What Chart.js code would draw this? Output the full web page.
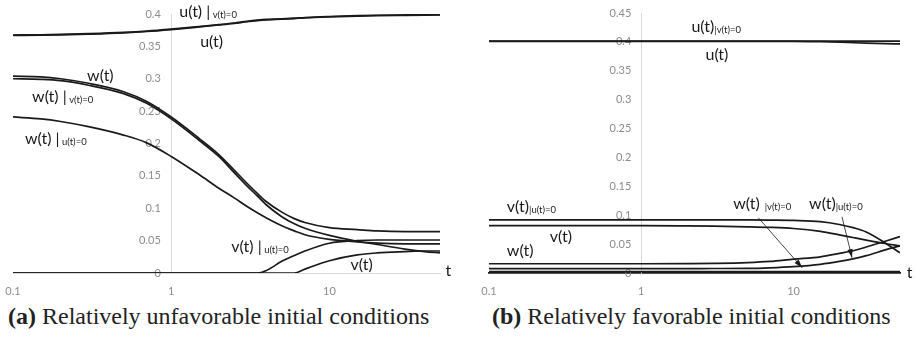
<!DOCTYPE html>
<html>
<head>
<meta charset="utf-8">
<script src="https://cdn.jsdelivr.net/npm/chart.js@4"></script>
<style>
  body { margin: 0; background: #fff; width: 916px; height: 337px; overflow: hidden; position: relative; }
  .box { position: absolute; top: 0; height: 300px; }
  #boxA { left: 0; width: 456px; }
  #boxB { left: 456px; width: 460px; }
  .cap { position: absolute; top: 303px; font-family: "Liberation Serif", serif; font-size: 24px; color: #222; white-space: nowrap; }
</style>
</head>
<body>
<div class="box" id="boxA"><canvas id="chartA"></canvas></div>
<div class="box" id="boxB"><canvas id="chartB"></canvas></div>
<div class="cap" style="left:8px"><b>(a)</b> Relatively unfavorable initial conditions</div>
<div class="cap" style="left:492px"><b>(b)</b> Relatively favorable initial conditions</div>
<script>
// panel (a) - relatively unfavorable initial conditions
const tA = [0.1, 0.15, 0.2, 0.3, 0.5, 0.7, 1, 1.5, 2, 2.5, 3, 3.5, 4, 5, 6, 7, 10, 15, 20, 30, 40, 50];
const uA = [0.367, 0.3672, 0.3678, 0.369, 0.371, 0.373, 0.376, 0.38, 0.383, 0.3855, 0.388, 0.3898, 0.391, 0.392, 0.393, 0.394, 0.3955, 0.3968, 0.3975, 0.398, 0.3983, 0.3985];
const uvA = [0.3676, 0.3678, 0.3684, 0.3696, 0.3716, 0.3736, 0.3766, 0.3806, 0.3836, 0.3861, 0.3886, 0.3904, 0.3916, 0.3926, 0.3936, 0.3946, 0.3961, 0.3974, 0.3981, 0.3986, 0.3989, 0.3991];
const wA = [0.304, 0.303, 0.3, 0.293, 0.28, 0.265, 0.241, 0.208, 0.183, 0.159, 0.139, 0.123, 0.11, 0.094, 0.084, 0.078, 0.07, 0.067, 0.065, 0.064, 0.064, 0.064];
const wvA = [0.3, 0.299, 0.297, 0.29, 0.277, 0.262, 0.238, 0.205, 0.18, 0.155, 0.135, 0.119, 0.105, 0.087, 0.076, 0.069, 0.058, 0.049, 0.044, 0.037, 0.033, 0.031];
const wuA = [0.241, 0.238, 0.234, 0.226, 0.213, 0.201, 0.18, 0.152, 0.131, 0.116, 0.103, 0.093, 0.085, 0.073, 0.065, 0.059, 0.052, 0.048, 0.046, 0.045, 0.045, 0.045];
const vuA = [0, 0, 0, 0, 0, 0, 0, 0, 0, 0, 0, 0, 0.004, 0.018, 0.027, 0.034, 0.046, 0.05, 0.051, 0.051, 0.051, 0.051];
const vA = [0, 0, 0, 0, 0, 0, 0, 0, 0, 0, 0, 0, 0, 0, 0, 0.006, 0.019, 0.028, 0.031, 0.033, 0.034, 0.034];

// panel (b) - relatively favorable initial conditions
const tB = [0.1, 0.2, 0.5, 1, 2, 3, 5, 7, 10, 15, 20, 25, 30, 40, 50];
const uB = [0.401, 0.401, 0.401, 0.401, 0.401, 0.401, 0.401, 0.401, 0.401, 0.4003, 0.3995, 0.3985, 0.3978, 0.397, 0.3965];
const uvB = [0.4012, 0.4012, 0.4012, 0.4012, 0.4012, 0.4012, 0.4012, 0.4012, 0.4012, 0.4012, 0.4012, 0.4012, 0.4012, 0.4012, 0.4012];
const vuB = [0.092, 0.092, 0.092, 0.092, 0.092, 0.092, 0.0918, 0.0915, 0.091, 0.089, 0.084, 0.078, 0.071, 0.052, 0.035];
const vB = [0.082, 0.082, 0.082, 0.082, 0.0815, 0.081, 0.08, 0.079, 0.077, 0.072, 0.066, 0.061, 0.057, 0.051, 0.047];
const wB = [0.016, 0.016, 0.016, 0.016, 0.0163, 0.0167, 0.018, 0.02, 0.024, 0.028, 0.034, 0.039, 0.045, 0.055, 0.063];
const wvB = [0.0075, 0.0075, 0.0075, 0.0075, 0.0076, 0.0078, 0.008, 0.009, 0.011, 0.015, 0.02, 0.025, 0.03, 0.04, 0.047];
const wuB = [0.0025, 0.0025, 0.0025, 0.0025, 0.0025, 0.0025, 0.0025, 0.0025, 0.0025, 0.0025, 0.0025, 0.0025, 0.0025, 0.0025, 0.0025];

const xTicks = [0.1, 1, 10];

// curve labels: main text, separator bar, small subscript text
const labelsA = [
  { main: "u(t)", bar: " |", sub: " v(t)=0", at: [1.124, 0.403] },
  { main: "u(t)", at: [1.525, 0.357] },
  { main: "w(t)", at: [0.294, 0.3045] },
  { main: "w(t)", bar: " |", sub: " v(t)=0", at: [0.132, 0.272] },
  { main: "w(t)", bar: " |", sub: " u(t)=0", at: [0.119, 0.207] },
  { main: "v(t)", bar: " |", sub: " u(t)=0", at: [2.4, 0.0406] },
  { main: "v(t)", at: [13.6, 0.0128] },
  { main: "t", at: [54.2, 0.0035] },
];
const labelsB = [
  { main: "u(t)", sub: "|v(t)=0", at: [2.135, 0.4258] },
  { main: "u(t)", at: [2.64, 0.378] },
  { main: "v(t)", sub: "|u(t)=0", at: [0.131, 0.1146] },
  { main: "v(t)", at: [0.251, 0.0627] },
  { main: "w(t)", at: [0.131, 0.0385] },
  { main: "w(t)", sub: "  |v(t)=0", at: [4.02, 0.1198] },
  { main: "w(t)", sub: "|u(t)=0", at: [12.65, 0.1198] },
  { main: "t", at: [55.4, 0.0] },
];
const arrowsB = [
  { from: [5.87, 0.0956], to: [11.4, 0.009] },
  { from: [20.8, 0.0973], to: [24.2, 0.0265] },
];

const curveLabels = {
  id: "curveLabels",
  afterDatasetsDraw(chart, args, opts) {
    const ctx = chart.ctx;
    const xs = chart.scales.x;
    const ys = chart.scales.y;
    ctx.save();
    ctx.fillStyle = "#1a1a1a";
    ctx.strokeStyle = "#1a1a1a";
    ctx.textBaseline = "middle";
    ctx.textAlign = "left";
    (opts.items || []).forEach((l) => {
      let x = xs.getPixelForValue(l.at[0]);
      const y = ys.getPixelForValue(l.at[1]);
      ctx.font = "16px Lato";
      ctx.fillText(l.main, x, y);
      x += ctx.measureText(l.main).width;
      if (l.bar) {
        ctx.fillText(l.bar, x, y);
        x += ctx.measureText(l.bar).width;
      }
      if (l.sub) {
        ctx.font = "9.5px Lato";
        ctx.fillText(l.sub, x, y + 3);
      }
    });
    (opts.arrows || []).forEach((a) => {
      const x1 = xs.getPixelForValue(a.from[0]), y1 = ys.getPixelForValue(a.from[1]);
      const x2 = xs.getPixelForValue(a.to[0]), y2 = ys.getPixelForValue(a.to[1]);
      const ang = Math.atan2(y2 - y1, x2 - x1);
      ctx.lineWidth = 0.8;
      ctx.beginPath();
      ctx.moveTo(x1, y1);
      ctx.lineTo(x2, y2);
      ctx.stroke();
      ctx.beginPath();
      ctx.moveTo(x2, y2);
      ctx.lineTo(x2 - 9 * Math.cos(ang - 0.3), y2 - 9 * Math.sin(ang - 0.3));
      ctx.lineTo(x2 - 9 * Math.cos(ang + 0.3), y2 - 9 * Math.sin(ang + 0.3));
      ctx.closePath();
      ctx.fill();
    });
    ctx.restore();
  },
};

function line(ts, vals) {
  return {
    data: ts.map((t, i) => ({ x: t, y: vals[i] })),
    borderColor: "#1a1a1a",
    borderWidth: 1.7,
    pointRadius: 0,
    cubicInterpolationMode: "monotone",
    fill: false,
  };
}

const tickFont = { family: "Lato", size: 11 };

function makeChart(canvasId, ts, series, yMax, pad, xBorder, labels, arrows) {
  new Chart(document.getElementById(canvasId), {
    type: "line",
    data: { datasets: series.map((s) => line(ts, s)) },
    options: {
      responsive: true,
      maintainAspectRatio: false,
      animation: false,
      layout: { padding: pad },
      plugins: {
        legend: { display: false },
        tooltip: { enabled: false },
        curveLabels: { items: labels, arrows: arrows },
      },
      scales: {
        x: {
          type: "logarithmic",
          min: 0.1,
          max: 50,
          position: "bottom",
          grid: { display: false, drawTicks: false, tickLength: 0 },
          border: { display: true, color: xBorder.color, width: xBorder.width },
          afterBuildTicks: (s) => { s.ticks = xTicks.map((v) => ({ value: v })); },
          afterFit: (s) => { s.height = 27; s.paddingLeft = 0; s.paddingRight = 0; },
          ticks: {
            padding: 12,
            color: "#8c8c8c",
            font: tickFont,
            maxRotation: 0,
            callback: (v) => String(v),
          },
        },
        // the vertical axis line crossing at t = 1
        y: {
          min: 0,
          max: yMax,
          position: { x: 1 },
          grid: { display: false, drawTicks: false, tickLength: 0 },
          border: { display: true, color: "#d9d9d9", width: 1 },
          ticks: { display: false, stepSize: 0.05 },
        },
        // its tick labels, set a little to the left of the line
        yl: {
          min: 0,
          max: yMax,
          position: { x: 0.86 },
          grid: { display: false, drawTicks: false, tickLength: 0 },
          border: { display: false },
          ticks: {
            stepSize: 0.05,
            color: "#8c8c8c",
            font: tickFont,
            callback: (v) => String(+v.toFixed(2)),
          },
        },
      },
    },
    plugins: [curveLabels],
  });
}

makeChart("chartA", tA, [uA, uvA, wA, wvA, wuA, vuA, vA], 0.4,
  { left: 13, right: 16, top: 14, bottom: 0 }, { color: "#d9d9d9", width: 1 }, labelsA, []);
makeChart("chartB", tB, [uB, uvB, vuB, vB, wB, wvB, wuB], 0.45,
  { left: 33, right: 16, top: 13, bottom: 0 }, { color: "#1a1a1a", width: 1.7 }, labelsB, arrowsB);
</script>
</body>
</html>
